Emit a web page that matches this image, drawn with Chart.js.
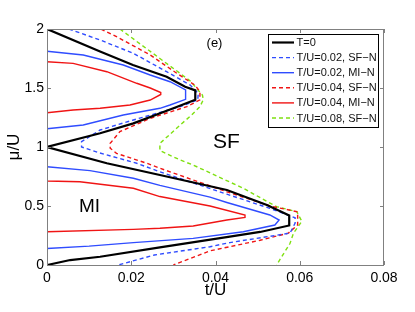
<!DOCTYPE html>
<html>
<head>
<meta charset="utf-8">
<script src="https://cdn.jsdelivr.net/npm/chart.js@4"></script>
<style>
  html, body { margin: 0; padding: 0; background: #fff; }
  #wrap { width: 415px; height: 312px; }
</style>
</head>
<body>
<div id="wrap"><canvas id="c" width="415" height="312"></canvas></div>
<script>
/* ── datos (t/U, μ/U) ────────────────────────────────────────────── */
const xTicks = [0, 0.02, 0.04, 0.06, 0.08];
const xTickLabels = ['0', '0.02', '0.04', '0.06', '0.08'];
const yTicks = [0, 0.5, 1, 1.5, 2];
const yTickLabels = ['0', '0.5', '1', '1.5', '2'];

const seriesNames = ['T=0', 'T/U=0.02, SF\u2212N', 'T/U=0.02, MI\u2212N',
                     'T/U=0.04, SF\u2212N', 'T/U=0.04, MI\u2212N', 'T/U=0.08, SF\u2212N'];

// T=0
const t0_t  = [0, 0.0126, 0.0204, 0.0284, 0.0328, 0.0352, 0.0352, 0.030, 0.0205, 0.0126, 0,
               0.0142, 0.0268, 0.0427, 0.0522, 0.0575, 0.0575, 0.0506, 0.0434, 0.0268, 0.0126, 0.0055, 0];
const t0_mu = [2, 1.81, 1.695, 1.596, 1.511, 1.48, 1.40, 1.328, 1.20, 1.116, 1.0,
               0.862, 0.763, 0.636, 0.508, 0.42, 0.335, 0.28, 0.24, 0.15, 0.07, 0.042, 0];

// T/U=0.02, SF-N
const sf02_t  = [0.0052, 0.0126, 0.0205, 0.0284, 0.034, 0.0359, 0.0358, 0.0316, 0.0205, 0.0126, 0.0082, 0.0082,
                 0.0125, 0.0213, 0.0268, 0.0427, 0.0529, 0.0589, 0.0589, 0.0577, 0.0434, 0.0387, 0.0255, 0.0169];
const sf02_mu = [2.0, 1.907, 1.794, 1.638, 1.525, 1.455, 1.40, 1.342, 1.229, 1.144, 1.045, 1.0,
                 0.95, 0.862, 0.79, 0.60, 0.48, 0.40, 0.355, 0.27, 0.19, 0.155, 0.085, 0];

// T/U=0.02, MI-N (dos lóbulos)
const mi02a_t  = [0, 0.0086, 0.0181, 0.0245, 0.0292, 0.0329, 0.0329, 0.0292, 0.0268, 0.0181, 0.0086, 0];
const mi02a_mu = [1.812, 1.78, 1.695, 1.61, 1.553, 1.483, 1.404, 1.356, 1.328, 1.271, 1.186, 1.155];
const mi02b_t  = [0, 0.0102, 0.0205, 0.0268, 0.0387, 0.0427, 0.0529, 0.0551, 0.0541, 0.0466, 0.0347, 0.0205, 0.01, 0];
const mi02b_mu = [0.833, 0.80, 0.735, 0.675, 0.575, 0.53, 0.424, 0.381, 0.339, 0.282, 0.226, 0.19, 0.16, 0.14];

// T/U=0.04, SF-N
const sf04_t  = [0.0128, 0.0165, 0.0245, 0.0308, 0.0351, 0.0363, 0.0363, 0.0332, 0.0245, 0.0173, 0.015, 0.015,
                 0.0165, 0.0237, 0.0268, 0.0427, 0.053, 0.0595, 0.0595, 0.0573, 0.0506, 0.0434, 0.0387, 0.030];
const sf04_mu = [2.0, 1.935, 1.78, 1.625, 1.525, 1.47, 1.40, 1.342, 1.243, 1.13, 1.031, 0.99,
                 0.946, 0.862, 0.82, 0.62, 0.50, 0.45, 0.34, 0.27, 0.21, 0.155, 0.12, 0];

// T/U=0.04, MI-N
const mi04_t  = [0, 0.0062, 0.0142, 0.0213, 0.0245, 0.0270, 0.0270, 0.0245, 0.0197, 0.0126, 0.0062, 0,
                 0, 0.0078, 0.0205, 0.0268, 0.0387, 0.047, 0.047, 0.0427, 0.0347, 0.0268, 0.0205, 0];
const mi04_mu = [1.723, 1.709, 1.638, 1.54, 1.50, 1.462, 1.445, 1.398, 1.356, 1.328, 1.314, 1.29,
                 0.712, 0.706, 0.65, 0.58, 0.50, 0.424, 0.404, 0.381, 0.33, 0.311, 0.302, 0.282];

// T/U=0.08, SF-N
const sf08_t  = [0.0173, 0.0268, 0.034, 0.0369, 0.0371, 0.0363, 0.0343, 0.0316, 0.0268, 0.0268,
                 0.0316, 0.0347, 0.0466, 0.0545, 0.0593, 0.0605, 0.0585, 0.0577, 0.0545];
const sf08_mu = [2.0, 1.75, 1.56, 1.44, 1.40, 1.342, 1.27, 1.186, 1.03, 0.97,
                 0.89, 0.847, 0.65, 0.494, 0.452, 0.37, 0.269, 0.184, 0];

/* ── helpers ─────────────────────────────────────────────────────── */
function pts(ts, mus) { return ts.map((t, i) => ({ x: t, y: mus[i] })); }

const BLUE = '#2f4cff', RED = '#f01414', GREEN = '#7fe010';
const DASH = [4, 3];
const FONT = "'Liberation Sans', Arial, Helvetica, sans-serif";

function line(label, data, color, width, dash) {
  return {
    label: label, data: data, showLine: true, borderColor: color, backgroundColor: color,
    borderWidth: width, borderDash: dash || [], pointRadius: 0, tension: 0, fill: false
  };
}

const datasets = [
  line(seriesNames[0], pts(t0_t, t0_mu), '#000', 2.2),
  line(seriesNames[1], pts(sf02_t, sf02_mu), BLUE, 1.4, DASH),
  line(seriesNames[2], pts(mi02a_t, mi02a_mu), BLUE, 1.4),
  line(seriesNames[3], pts(sf04_t, sf04_mu), RED, 1.4, DASH),
  line(seriesNames[4], pts(mi04_t, mi04_mu), RED, 1.4),
  line(seriesNames[5], pts(sf08_t, sf08_mu), GREEN, 1.4, DASH),
  // segundo lóbulo MI-N 0.02, sin entrada de leyenda
  Object.assign(line('', pts(mi02b_t, mi02b_mu), BLUE, 1.4), { noLegend: true })
];

/* ── marco, ticks hacia adentro, textos y leyenda estilo MATLAB ──── */
const framePlugin = {
  id: 'frame',
  afterDraw(chart) {
    const ctx = chart.ctx, a = chart.chartArea;
    const xs = chart.scales.x, ys = chart.scales.y;
    ctx.save();
    ctx.strokeStyle = '#808080';
    ctx.lineWidth = 1;
    ctx.strokeRect(Math.round(a.left) + 0.5, Math.round(a.top) + 0.5,
                   Math.round(a.right - a.left) - 1, Math.round(a.bottom - a.top));
    ctx.beginPath();
    xTicks.forEach(v => {
      const px = Math.round(xs.getPixelForValue(v)) + 0.5;
      ctx.moveTo(px, a.bottom); ctx.lineTo(px, a.bottom - 4);
      ctx.moveTo(px, a.top);    ctx.lineTo(px, a.top + 4);
    });
    yTicks.forEach(v => {
      const py = Math.round(ys.getPixelForValue(v)) + 0.5;
      ctx.moveTo(a.left, py);  ctx.lineTo(a.left + 4, py);
      ctx.moveTo(a.right, py); ctx.lineTo(a.right - 4, py);
    });
    ctx.stroke();

    // textos
    ctx.fillStyle = '#000';
    ctx.textAlign = 'center';
    ctx.textBaseline = 'middle';
    ctx.font = '13px ' + FONT;
    ctx.fillText('(e)', 214.5, 43);
    ctx.font = '21px ' + FONT;
    ctx.fillText('SF', 226.5, 142.5);
    ctx.font = '19px ' + FONT;
    ctx.fillText('MI', 89.5, 206.5);

    // títulos de ejes
    ctx.font = '17px ' + FONT;
    ctx.fillText('t/U', (a.left + a.right) / 2, 290);
    ctx.save();
    ctx.translate(14, (a.top + a.bottom) / 2);
    ctx.rotate(-Math.PI / 2);
    ctx.fillText('\u03bc/U', 0, 0);
    ctx.restore();

    // leyenda
    const lx = 268.5, ly = 34.5, lw = 110, lh = 93;
    ctx.fillStyle = '#fff';
    ctx.fillRect(lx, ly, lw, lh);
    ctx.strokeStyle = '#000';
    ctx.lineWidth = 1;
    ctx.strokeRect(lx, ly, lw, lh);
    ctx.font = '11px ' + FONT;
    ctx.textAlign = 'left';
    chart.data.datasets.filter(d => !d.noLegend).forEach((d, i) => {
      const yy = 42.5 + i * 15.1;
      ctx.strokeStyle = d.borderColor;
      ctx.lineWidth = d.borderWidth;
      ctx.setLineDash(d.borderDash);
      ctx.beginPath(); ctx.moveTo(272, yy); ctx.lineTo(294, yy); ctx.stroke();
      ctx.setLineDash([]);
      ctx.fillStyle = '#111';
      ctx.fillText(d.label, 296.5, yy + 0.5);
    });
    ctx.restore();
  }
};

new Chart(document.getElementById('c').getContext('2d'), {
  type: 'scatter',
  data: { datasets: datasets },
  options: {
    responsive: false,
    animation: false,
    layout: { padding: { top: 29, right: 31, left: 0, bottom: 0 } },
    plugins: { legend: { display: false }, tooltip: { enabled: false } },
    scales: {
      x: {
        type: 'linear', min: 0, max: 0.08,
        afterBuildTicks: s => { s.ticks = xTicks.map(v => ({ value: v })); },
        afterFit: s => { s.height = 47; },
        grid: { display: false, drawTicks: false },
        border: { display: false },
        ticks: {
          padding: 5, color: '#000', maxRotation: 0,
          font: { family: FONT, size: 14 },
          callback: (v, i) => xTickLabels[i]
        }
      },
      y: {
        type: 'linear', min: 0, max: 2,
        afterBuildTicks: s => { s.ticks = yTicks.map(v => ({ value: v })); },
        afterFit: s => { s.width = 47; },
        grid: { display: false, drawTicks: false },
        border: { display: false },
        ticks: {
          padding: 3, color: '#000',
          font: { family: FONT, size: 14 },
          callback: (v, i) => yTickLabels[i]
        }
      }
    }
  },
  plugins: [framePlugin]
});
</script>
</body>
</html>
